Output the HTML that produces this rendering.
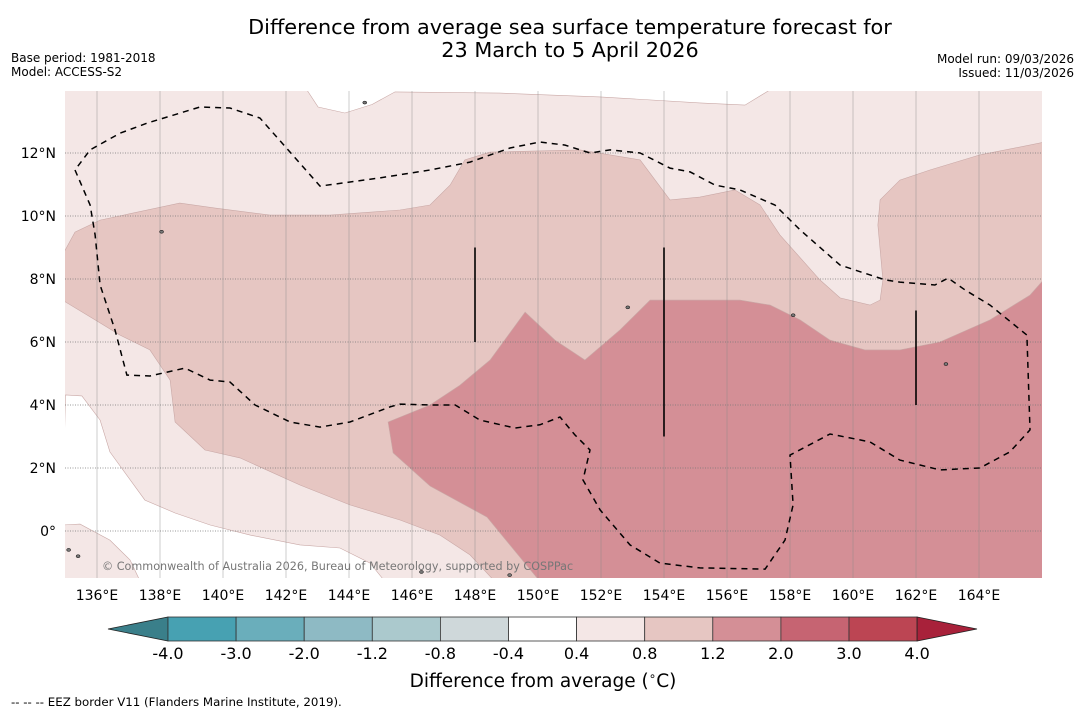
<!DOCTYPE html>
<html><head><meta charset="utf-8"><style>
body{margin:0;background:#fff;width:1085px;height:713px;overflow:hidden}
svg text{font-family:"DejaVu Sans","Liberation Sans",sans-serif}
</style></head><body>
<svg id="chart" width="1085" height="713" xmlns="http://www.w3.org/2000/svg">
<text x="570" y="34" text-anchor="middle" font-size="20.8">Difference from average sea surface temperature forecast for</text>
<text x="570" y="57" text-anchor="middle" font-size="20.8">23 March to 5 April 2026</text>
<text x="11" y="62" font-size="12">Base period: 1981-2018</text>
<text x="11" y="76" font-size="12">Model: ACCESS-S2</text>
<text x="1074" y="63" font-size="12" text-anchor="end">Model run: 09/03/2026</text>
<text x="1074" y="77" font-size="12" text-anchor="end">Issued: 11/03/2026</text>
<defs><clipPath id="mc"><rect x="65" y="91" width="977" height="487"/></clipPath></defs>
<g id="map" clip-path="url(#mc)"></g>
<g id="axes"></g>
<g id="cbar"></g>
<text x="543" y="687" text-anchor="middle" font-size="18.5">Difference from average (<tspan font-size="12" dy="-7">∘</tspan><tspan dy="7">C)</tspan></text>
<text x="11" y="706" font-size="11.8">--  --  -- EEZ border V11 (Flanders Marine Institute, 2019).</text>
</svg>
<script>
const lonTicks=[136,138,140,142,144,146,148,150,152,154,156,158,160,162,164];
const latTicks=[0,2,4,6,8,10,12];
const cbLabels=["-4.0","-3.0","-2.0","-1.2","-0.8","-0.4","0.4","0.8","1.2","2.0","3.0","4.0"];
const cbColors=["#47a1b2","#6aaebb","#8ebac4","#abc9cd","#cfd8da","#ffffff","#f4e7e6","#e6c6c2","#d48f96","#c66472","#bc4553"];
const whiteTop=[[142.6,14.1],[143.02,13.46],[143.87,13.27],[144.73,13.54],[145.46,13.94],[148.79,13.9],[151.97,13.78],[155.14,13.59],[156.57,13.52],[157.52,14.1]];
const whiteBL=[[135,4.32],[135.52,4.29],[136.1,3.52],[136.41,2.51],[137.52,0.98],[138.48,0.57],[139.59,0.19],[140.86,-0.13],[142.44,-0.44],[143.71,-0.54],[144.67,-1.02],[145.14,-1.6],[137.37,-1.6],[137.05,-0.92],[136.41,-0.29],[135.46,0.22],[134.9,0.19]];
const medium=[[134.9,8.76],[135.3,9.49],[136.1,9.87],[138.63,10.41],[139.75,10.25],[141.49,10.03],[143.4,10.03],[145.62,10.19],[146.57,10.35],[147.21,10.98],[147.68,11.78],[148.48,12.03],[151.33,12.1],[153.24,11.78],[154.19,10.51],[155.14,10.6],[156.25,10.83],[157.05,10.35],[157.68,9.4],[158.95,7.97],[159.59,7.4],[160.54,7.17],[160.86,7.33],[160.95,7.97],[160.79,9.71],[160.86,10.51],[161.49,11.14],[162.44,11.46],[164.03,11.94],[166.1,12.35],[166.1,-1.6],[148.63,-1.6],[147.84,-0.76],[146.89,-0.13],[145.62,0.35],[144.03,0.83],[142.44,1.46],[140.54,2.32],[139.43,2.57],[138.48,3.46],[138.32,4.79],[138,5.27],[137.68,5.75],[136.73,6.22],[135.94,6.7],[134.9,7.33]];
const dark=[[145.24,3.46],[146.57,4.0],[147.52,4.63],[148.48,5.43],[149.59,6.95],[150.54,6.06],[151.49,5.43],[152.6,6.38],[153.56,7.33],[156.41,7.33],[157.37,7.17],[158.32,6.7],[159.27,6.06],[160.38,5.75],[161.49,5.75],[162.76,6.0],[164.35,6.7],[165.62,7.49],[166.1,8.03],[166.1,-1.6],[150.06,-1.6],[148.38,0.44],[146.57,1.43],[145.4,2.48]];
const eez=[[135.3,11.46],[135.78,10.35],[135.94,9.4],[136.1,7.81],[136.57,6.38],[136.95,4.95],[137.68,4.92],[138.79,5.17],[139.59,4.79],[140.22,4.73],[141.02,4.0],[142.13,3.46],[143.08,3.3],[144.03,3.46],[145.3,3.94],[145.62,4.03],[146.57,4.0],[147.37,4.0],[148.16,3.52],[149.27,3.27],[150.06,3.37],[150.7,3.62],[151.17,3.05],[151.65,2.57],[151.43,1.62],[151.97,0.67],[152.92,-0.44],[153.87,-1.02],[155.14,-1.17],[157.21,-1.21],[157.84,-0.29],[158.1,0.83],[158.0,2.41],[159.27,3.08],[160.54,2.83],[161.49,2.25],[162.76,1.94],[164.03,2.0],[164.98,2.51],[165.62,3.21],[165.52,6.22],[164.35,7.17],[163.56,7.65],[163.02,8.03],[162.6,7.81],[161.49,7.9],[161.02,7.97],[159.59,8.44],[158.32,9.56],[157.52,10.35],[156.41,10.83],[155.62,10.98],[154.83,11.4],[154.19,11.52],[153.24,12.0],[152.29,12.1],[151.65,12.0],[150.86,12.25],[150.06,12.35],[149.11,12.16],[147.84,11.71],[146.57,11.46],[144.98,11.21],[143.08,10.95],[141.17,13.11],[140.22,13.43],[139.27,13.46],[137.59,12.95],[136.73,12.63],[135.78,12.1]];
const eezLinesLon=[148,154,162];
const eezLinesTop=[9,9,7];
const eezLinesBot=[6,3,4];
const islands=[[144.5,13.6],[138.05,9.5],[152.85,7.1],[158.1,6.85],[162.95,5.3],[135.4,-0.8],[135.1,-0.6],[146.3,-1.3],[149.1,-1.4]];

const NS='http://www.w3.org/2000/svg';
const X=lon=>97+(lon-136)*31.5;
const Y=lat=>531-lat*31.5;
function mk(tag,attrs,parent){const e=document.createElementNS(NS,tag);for(const k in attrs)e.setAttribute(k,attrs[k]);parent.appendChild(e);return e;}
const map=document.getElementById('map'),axes=document.getElementById('axes'),cb=document.getElementById('cbar');
const pts=a=>a.map(p=>X(p[0]).toFixed(1)+','+Y(p[1]).toFixed(1)).join(' ');
let bg=mk('rect',{x:65,y:91,width:977,height:487,fill:'#f4e7e6'},map);


[[whiteTop,'#ffffff','region-below-0.4-north'],[whiteBL,'#ffffff','region-below-0.4-south'],[medium,'#e6c6c2','region-0.8-1.2'],[dark,'#d48f96','region-1.2-2.0']].forEach(([d,c,n])=>{
 const p=mk('polygon',{points:pts(d),fill:c,stroke:'#c9a8a6','stroke-width':0.6},map);
 
 
});
lonTicks.forEach(l=>{const g=mk('line',{x1:X(l),x2:X(l),y1:91,y2:578,stroke:'#888','stroke-width':0.6,'stroke-opacity':0.7},map);
 
 });
latTicks.forEach(l=>{const g=mk('line',{x1:65,x2:1042,y1:Y(l),y2:Y(l),stroke:'#777','stroke-width':0.8,'stroke-dasharray':'1,1.5'},map);
 
 });
islands.forEach(p=>{const c=mk('ellipse',{cx:X(p[0]),cy:Y(p[1]),rx:2,ry:1.5,fill:'#777',stroke:'#000','stroke-width':0.5},map);
 
 });
const e=mk('polygon',{points:pts(eez),fill:'none',stroke:'#000','stroke-width':1.5,'stroke-dasharray':'6,5'},map);


eezLinesLon.forEach((l,i)=>{const v=mk('line',{x1:X(l),x2:X(l),y1:Y(eezLinesTop[i]),y2:Y(eezLinesBot[i]),stroke:'#000','stroke-width':1.6},map);
 
 });
const wm=mk('text',{x:102,y:570,'font-size':11.2,fill:'#777'},map);wm.textContent='© Commonwealth of Australia 2026, Bureau of Meteorology, supported by COSPPac';


lonTicks.forEach(l=>{const t=mk('text',{x:X(l),y:600,'font-size':14,'text-anchor':'middle'},axes);t.textContent=l+'°E';
 
 });
latTicks.forEach(l=>{const t=mk('text',{x:56,y:Y(l)+5,'font-size':14,'text-anchor':'end'},axes);t.textContent=l===0?'0°':l+'°N';
 
 });
const cx0=168,cw=68.1,cy=617,ch=24;
let tl=mk('polygon',{points:`108,${cy+ch/2} ${cx0},${cy} ${cx0},${cy+ch}`,fill:'#3a7f8a',stroke:'#222','stroke-width':0.8},cb);


cbColors.forEach((c,i)=>{const r=mk('rect',{x:cx0+i*cw,y:cy,width:cw,height:ch,fill:c,stroke:'#333','stroke-width':0.8},cb);
 
 });
const xe=cx0+cbColors.length*cw;
let tr=mk('polygon',{points:`${xe},${cy} 977,${cy+ch/2} ${xe},${cy+ch}`,fill:'#a8213a',stroke:'#222','stroke-width':0.8},cb);


cbLabels.forEach((s,i)=>{const t=mk('text',{x:cx0+i*cw,y:659,'font-size':16,'text-anchor':'middle'},cb);t.textContent=s;
 
 });
</script>
</body></html>
